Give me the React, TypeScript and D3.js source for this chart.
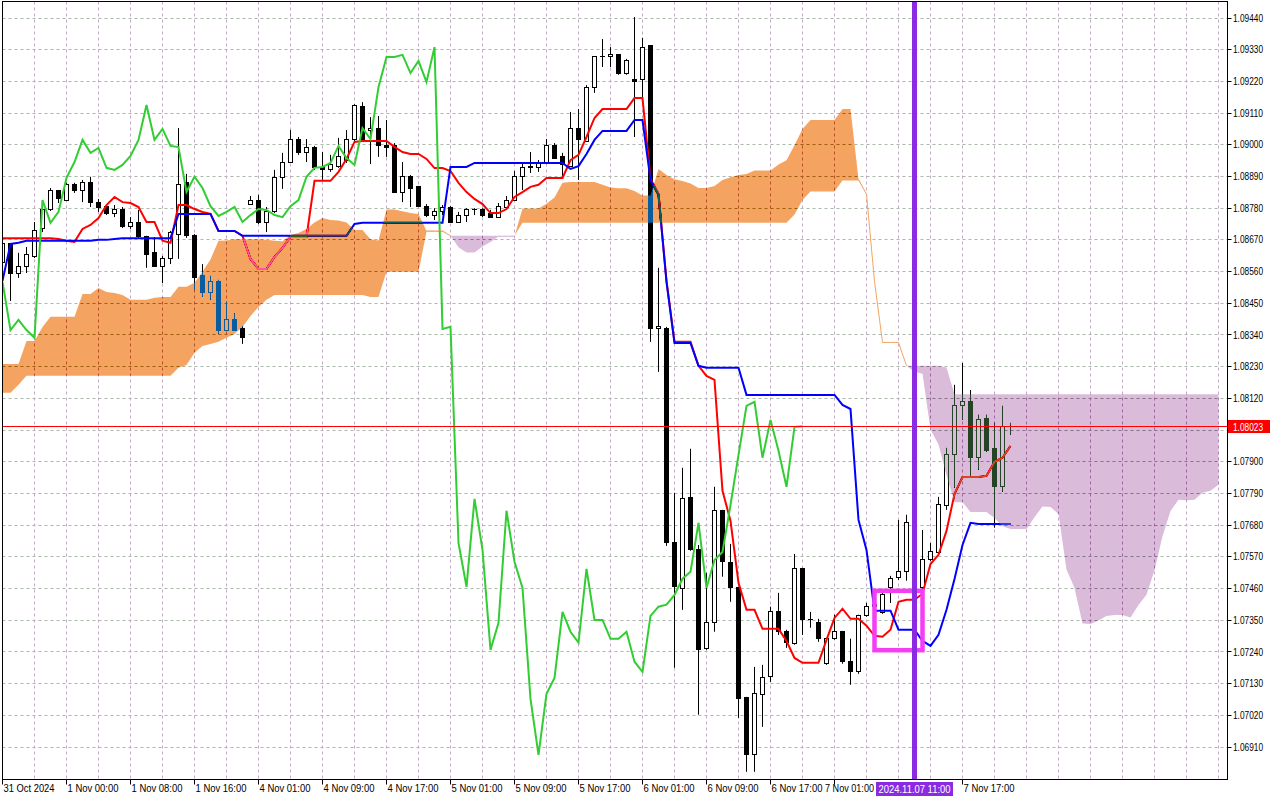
import React from 'react';
import * as d3 from 'd3';

// EURUSD H1, first bar = 31 Oct 2024 16:00. [open, high, low, close]
const ohlc: [number, number, number, number][] = [
  [1.08593, 1.0867, 1.08579, 1.08656], [1.08656, 1.08659, 1.08458, 1.08555], [1.08555, 1.08625, 1.08538, 1.08579],
  [1.08579, 1.08645, 1.08555, 1.08618], [1.08611, 1.08732, 1.08607, 1.08704], [1.08708, 1.08808, 1.08697, 1.08774],
  [1.08774, 1.0885, 1.0877, 1.0884], [1.0884, 1.08843, 1.08798, 1.08812], [1.08808, 1.08868, 1.08805, 1.08861],
  [1.08861, 1.08868, 1.08833, 1.0884], [1.0884, 1.08878, 1.08801, 1.08868], [1.08868, 1.08889, 1.08784, 1.08801],
  [1.08801, 1.08812, 1.08767, 1.08784], [1.08787, 1.08794, 1.08756, 1.08763], [1.08763, 1.08791, 1.08749, 1.08774],
  [1.08774, 1.08784, 1.08711, 1.08715], [1.08715, 1.08749, 1.08708, 1.08729], [1.08729, 1.08774, 1.08677, 1.0868],
  [1.0868, 1.08684, 1.08573, 1.08618], [1.08625, 1.0868, 1.08576, 1.08579], [1.08579, 1.08614, 1.0852, 1.08607],
  [1.08607, 1.08701, 1.08586, 1.08694], [1.0869, 1.09058, 1.08604, 1.08861], [1.08868, 1.08899, 1.08677, 1.08684],
  [1.08684, 1.0869, 1.08496, 1.08541], [1.08545, 1.08586, 1.08472, 1.08486], [1.08486, 1.08545, 1.08462, 1.08524],
  [1.08524, 1.08531, 1.08344, 1.08357], [1.08357, 1.08455, 1.08354, 1.08392], [1.08392, 1.08416, 1.08354, 1.08357],
  [1.08361, 1.08371, 1.08309, 1.0833], [1.08794, 1.08822, 1.08791, 1.08808], [1.08805, 1.08826, 1.08725, 1.08729],
  [1.08729, 1.08784, 1.08697, 1.08767], [1.08767, 1.08913, 1.08763, 1.08885], [1.08885, 1.08972, 1.08847, 1.0894],
  [1.0894, 1.09051, 1.08937, 1.09017], [1.09017, 1.09027, 1.08965, 1.08972], [1.08972, 1.0902, 1.0894, 1.08989],
  [1.08989, 1.08996, 1.08913, 1.0892], [1.0892, 1.08975, 1.08878, 1.08913], [1.08913, 1.08965, 1.08906, 1.0893],
  [1.08926, 1.09024, 1.0892, 1.08961], [1.08944, 1.09051, 1.08937, 1.09017], [1.09017, 1.09141, 1.0901, 1.09138],
  [1.09134, 1.09148, 1.09013, 1.09017], [1.09048, 1.09096, 1.08933, 1.09055], [1.09055, 1.091, 1.08958, 1.08996],
  [1.08999, 1.09086, 1.08958, 1.08992], [1.08996, 1.09006, 1.08833, 1.08836], [1.08836, 1.0894, 1.08801, 1.08889],
  [1.08889, 1.08895, 1.08784, 1.0885], [1.08854, 1.08857, 1.08784, 1.08787], [1.08787, 1.08794, 1.08749, 1.08753],
  [1.08753, 1.0878, 1.08739, 1.08767], [1.08767, 1.08791, 1.08756, 1.08784], [1.08784, 1.08787, 1.08729, 1.08732],
  [1.08732, 1.08767, 1.08729, 1.08756], [1.08756, 1.0878, 1.08732, 1.08777], [1.08774, 1.0878, 1.08756, 1.08774],
  [1.08774, 1.0878, 1.08749, 1.08756], [1.08763, 1.08774, 1.08746, 1.08749], [1.08749, 1.08798, 1.08746, 1.08787],
  [1.08784, 1.08822, 1.0878, 1.08808], [1.08808, 1.08909, 1.08805, 1.08889], [1.08889, 1.0894, 1.08843, 1.0892],
  [1.0892, 1.08975, 1.08902, 1.08923], [1.0892, 1.08947, 1.08906, 1.08937], [1.08937, 1.0902, 1.08933, 1.08996],
  [1.08996, 1.09006, 1.08951, 1.08954], [1.08958, 1.08972, 1.08889, 1.0893], [1.08926, 1.09114, 1.08923, 1.09058],
  [1.09058, 1.09124, 1.08878, 1.0902], [1.09013, 1.09207, 1.0901, 1.092], [1.092, 1.09308, 1.0918, 1.09305],
  [1.09305, 1.09367, 1.0927, 1.09305], [1.09305, 1.09339, 1.0927, 1.09312], [1.09312, 1.09315, 1.09243, 1.09249],
  [1.09249, 1.09298, 1.09243, 1.09291], [1.09228, 1.09443, 1.09027, 1.09218], [1.09228, 1.09371, 1.09155, 1.09339],
  [1.09343, 1.09346, 1.08316, 1.08361], [1.08364, 1.08573, 1.08212, 1.08368], [1.08361, 1.08368, 1.07608, 1.07618],
  [1.07618, 1.07792, 1.07185, 1.07466], [1.07459, 1.07879, 1.07386, 1.07771], [1.07775, 1.07945, 1.07591, 1.07594],
  [1.07594, 1.07611, 1.07022, 1.07247], [1.07251, 1.07514, 1.07247, 1.07341], [1.07341, 1.07813, 1.0731, 1.0773],
  [1.0773, 1.07733, 1.07501, 1.07553], [1.07549, 1.07615, 1.07414, 1.07462], [1.07462, 1.07466, 1.07011, 1.07077],
  [1.07081, 1.07084, 1.06824, 1.06883], [1.06883, 1.07188, 1.06824, 1.07095], [1.07091, 1.07195, 1.0698, 1.0715],
  [1.07154, 1.07397, 1.07136, 1.07379], [1.07379, 1.07445, 1.07299, 1.0731], [1.0731, 1.07317, 1.07254, 1.07272],
  [1.07268, 1.0758, 1.07265, 1.07528], [1.07528, 1.07532, 1.07299, 1.07351], [1.07351, 1.07379, 1.07324, 1.07351],
  [1.07341, 1.07355, 1.07275, 1.07286], [1.07199, 1.07289, 1.07195, 1.07286], [1.07286, 1.07369, 1.07282, 1.0731],
  [1.0731, 1.07313, 1.07199, 1.07206], [1.07206, 1.07286, 1.07126, 1.07171], [1.07171, 1.07369, 1.07164, 1.07365],
  [1.07365, 1.0741, 1.07362, 1.07397], [1.07397, 1.07428, 1.07383, 1.07404], [1.07376, 1.07459, 1.07372, 1.07438],
  [1.07462, 1.07504, 1.0741, 1.07494], [1.07497, 1.07698, 1.0749, 1.07518], [1.07518, 1.07716, 1.07487, 1.07688],
  [1.07688, 1.07698, 1.07449, 1.07462], [1.07462, 1.07663, 1.07459, 1.07559], [1.07559, 1.07618, 1.07556, 1.07587],
  [1.07584, 1.07778, 1.0758, 1.0775], [1.07747, 1.07948, 1.07733, 1.07924], [1.07924, 1.08167, 1.0781, 1.08094],
  [1.08094, 1.08243, 1.08045, 1.08108], [1.08108, 1.08149, 1.07848, 1.07914], [1.07914, 1.08063, 1.07872, 1.08045],
  [1.08049, 1.08063, 1.07935, 1.07938], [1.07945, 1.08035, 1.07671, 1.07813], [1.07813, 1.08094, 1.07796, 1.08021],
  [1.08021, 1.08035, 1.07993, 1.08023],
];

// Tenkan-sen (red), one value per bar
const tenkan = [
  1.08676, 1.08676, 1.08676, 1.08676, 1.08676, 1.08676, 1.08676, 1.08673, 1.08667, 1.08663, // 0
  1.08708, 1.08722, 1.08746, 1.08791, 1.08819, 1.08801, 1.08798, 1.08784, 1.08732, 1.08732, // 10
  1.08667, 1.0866, 1.08791, 1.08791, 1.08777, 1.08767, 1.0876, 1.08701, 1.08701, 1.08701, // 20
  1.08684, 1.08604, 1.08569, 1.08569, 1.08611, 1.08642, 1.0868, 1.0868, 1.0868, 1.08875, // 30
  1.08875, 1.08875, 1.08906, 1.08951, 1.0901, 1.09013, 1.09013, 1.09013, 1.09013, 1.08993, // 40
  1.08975, 1.08968, 1.08968, 1.08951, 1.08919, 1.08919, 1.08909, 1.08868, 1.08836, 1.08812, // 50
  1.08794, 1.08763, 1.08763, 1.08777, 1.08819, 1.08836, 1.08854, 1.08861, 1.08885, 1.08885, // 60
  1.08885, 1.08947, 1.08965, 1.09027, 1.09093, 1.09124, 1.09124, 1.09124, 1.09124, 1.09162, // 70
  1.09162, 1.08882, 1.08829, 1.08528, 1.08316, 1.08316, 1.08316, 1.08233, 1.08198, 1.08184, // 80
  1.07799, 1.07695, 1.0748, 1.07386, 1.07386, 1.0732, 1.0732, 1.0732, 1.07278, 1.07219, // 90
  1.07202, 1.07202, 1.07202, 1.07282, 1.07358, 1.0739, 1.07355, 1.07355, 1.07331, 1.07296, // 100
  1.07293, 1.07317, 1.07414, 1.07421, 1.07421, 1.07442, 1.07545, 1.07577, 1.0766, 1.07788, // 110
  1.07847, 1.07847, 1.07847, 1.07851, 1.079, 1.07914, 1.07955, // 120
];

// Kijun-sen (blue)
const kijun = [
  1.08528, 1.08656, 1.0866, 1.08667, 1.08667, 1.08667, 1.08667, 1.08667, 1.08667, 1.08667, // 0
  1.08667, 1.08667, 1.0867, 1.0867, 1.08673, 1.08676, 1.08676, 1.08676, 1.08676, 1.08676, // 10
  1.08676, 1.08676, 1.0876, 1.0876, 1.0876, 1.0876, 1.0876, 1.08701, 1.08701, 1.08701, // 20
  1.08684, 1.08684, 1.08684, 1.08684, 1.08684, 1.08684, 1.08684, 1.08684, 1.08684, 1.08684, // 30
  1.08684, 1.08684, 1.08684, 1.08684, 1.08725, 1.08729, 1.08729, 1.08729, 1.08729, 1.08729, // 40
  1.08729, 1.08729, 1.08729, 1.08729, 1.08729, 1.08729, 1.08923, 1.08923, 1.08923, 1.08937, // 50
  1.08937, 1.08937, 1.08937, 1.08937, 1.08937, 1.08937, 1.08937, 1.08937, 1.08937, 1.08937, // 60
  1.08937, 1.08916, 1.08926, 1.08968, 1.09017, 1.09048, 1.09048, 1.09048, 1.09048, 1.09086, // 70
  1.09086, 1.08878, 1.08826, 1.08524, 1.08312, 1.08312, 1.08312, 1.08233, 1.08226, 1.08226, // 80
  1.08226, 1.08226, 1.08226, 1.08132, 1.08132, 1.08132, 1.08132, 1.08132, 1.08132, 1.08132, // 90
  1.08132, 1.08132, 1.08132, 1.08132, 1.08132, 1.08097, 1.08083, 1.07698, 1.07594, 1.07383, // 100
  1.07383, 1.07383, 1.07317, 1.07317, 1.07317, 1.07278, 1.07261, 1.07299, 1.07386, 1.07493, // 110
  1.07611, 1.07688, 1.07684, 1.07684, 1.07684, 1.07684, 1.07684, // 120
];

// Senkou Span A and B, already shifted 26 bars forward (bars 0..152)
const spanA = [
  1.08239, 1.08239, 1.08239, 1.08319, 1.08319, 1.08368, 1.08403, 1.08403, 1.08403, 1.08403, // 0
  1.08482, 1.08482, 1.08503, 1.08489, 1.08486, 1.08479, 1.08462, 1.08462, 1.08462, 1.08469, // 10
  1.08472, 1.08472, 1.08507, 1.08507, 1.08521, 1.08559, 1.08602, 1.08667, 1.08668, 1.08672, // 20
  1.08672, 1.08672, 1.08672, 1.0867, 1.08667, 1.08665, 1.08687, 1.08694, 1.08708, 1.0873, // 30
  1.08746, 1.08739, 1.08737, 1.0873, 1.08704, 1.08704, 1.08672, 1.08668, 1.08775, 1.08775, // 40
  1.08769, 1.08763, 1.0876, 1.08701, 1.08701, 1.08701, 1.08684, 1.08644, 1.08626, 1.08626, // 50
  1.08647, 1.08663, 1.08682, 1.08682, 1.08682, 1.08779, 1.08779, 1.08779, 1.08795, 1.08817, // 60
  1.08868, 1.08871, 1.08871, 1.08871, 1.08871, 1.08861, 1.08852, 1.08849, 1.08849, 1.0884, // 70
  1.08824, 1.08824, 1.08916, 1.08895, 1.0888, 1.08874, 1.08866, 1.0885, 1.0885, 1.08857, // 80
  1.08878, 1.08887, 1.08895, 1.08899, 1.08911, 1.08911, 1.08911, 1.08932, 1.08946, 1.08998, // 90
  1.09055, 1.09086, 1.09086, 1.09086, 1.09086, 1.09124, 1.09124, 1.0888, 1.08828, 1.08526, // 100
  1.08314, 1.08314, 1.08314, 1.08233, 1.08212, 1.08205, 1.08012, 1.0796, 1.07853, 1.07759, // 110
  1.07759, 1.07726, 1.07726, 1.07726, 1.07705, 1.07676, 1.07667, 1.07667, 1.07667, 1.07707, // 120
  1.07745, 1.07743, 1.07719, 1.07526, 1.07462, 1.07339, 1.07337, 1.07349, 1.07365, 1.07368, // 130
  1.07368, 1.07359, 1.07403, 1.07438, 1.07523, 1.07641, 1.07729, 1.07768, 1.07766, 1.07768, // 140
  1.07792, 1.07799, 1.0782, // 150
];

const spanB = [
  1.08139, 1.08139, 1.08167, 1.08198, 1.08198, 1.08198, 1.08198, 1.08198, 1.08198, 1.08198, // 0
  1.08198, 1.08198, 1.08198, 1.08198, 1.08198, 1.08198, 1.08198, 1.08198, 1.08198, 1.08198, // 10
  1.08198, 1.08198, 1.08226, 1.08236, 1.08278, 1.08302, 1.08309, 1.08316, 1.0833, 1.08343, // 20
  1.08368, 1.08406, 1.08437, 1.08462, 1.08479, 1.08479, 1.08479, 1.08479, 1.08479, 1.08479, // 30
  1.08479, 1.08479, 1.08479, 1.08479, 1.08479, 1.08479, 1.08472, 1.08472, 1.08559, 1.08559, // 40
  1.08559, 1.08559, 1.08559, 1.08698, 1.08698, 1.08698, 1.08684, 1.08684, 1.08684, 1.08684, // 50
  1.08684, 1.08684, 1.08684, 1.08684, 1.08684, 1.08729, 1.08729, 1.08729, 1.08729, 1.08729, // 60
  1.08729, 1.08729, 1.08729, 1.08729, 1.08729, 1.08729, 1.08729, 1.08729, 1.08729, 1.08729, // 70
  1.08729, 1.08729, 1.08729, 1.08729, 1.08729, 1.08729, 1.08729, 1.08729, 1.08729, 1.08729, // 80
  1.08729, 1.08729, 1.08729, 1.08729, 1.08729, 1.08729, 1.08729, 1.08729, 1.08729, 1.08758, // 90
  1.08808, 1.08838, 1.08838, 1.08838, 1.08838, 1.08876, 1.08876, 1.08876, 1.08828, 1.08526, // 100
  1.08314, 1.08314, 1.08314, 1.08233, 1.08233, 1.08233, 1.08233, 1.08233, 1.08227, 1.08134, // 110
  1.08134, 1.08134, 1.08134, 1.08134, 1.08134, 1.08134, 1.08134, 1.08134, 1.08134, 1.08134, // 120
  1.08134, 1.08134, 1.08134, 1.08134, 1.08134, 1.08134, 1.08134, 1.08134, 1.08134, 1.08134, // 130
  1.08134, 1.08134, 1.08134, 1.08134, 1.08134, 1.08134, 1.08134, 1.08134, 1.08134, 1.08134, // 140
  1.08134, 1.08134, 1.08134, // 150
];

// Chikou span = close plotted 26 bars back
const chikouShift = 26;

const priceTicks = [
  1.0944, 1.0933, 1.0922, 1.0911, 1.09, 1.0889, 1.0878, 1.0867, 1.0856, 1.0845, 1.0834, 1.0823,
  1.0812, 1.0801, 1.079, 1.0779, 1.0768, 1.0757, 1.0746, 1.0735, 1.0724, 1.0713, 1.0702, 1.0691,
];

// 7 Nov 09:00 sits under the vertical line label, so it is not listed
const timeTicks: [number, string][] = [
  [0, '31 Oct 2024'], [8, '1 Nov 00:00'], [16, '1 Nov 08:00'], [24, '1 Nov 16:00'],
  [32, '4 Nov 01:00'], [40, '4 Nov 09:00'], [48, '4 Nov 17:00'], [56, '5 Nov 01:00'],
  [64, '5 Nov 09:00'], [72, '5 Nov 17:00'], [80, '6 Nov 01:00'], [88, '6 Nov 09:00'],
  [96, '6 Nov 17:00'], [104, '7 Nov 01:00'], [120, '7 Nov 17:00'],
];

const lastPrice = 1.08023;
const markerBar = 114;
const markerLabel = '2024.11.07 11:00';
const boxBars: [number, number] = [109, 115];
const boxPrices: [number, number] = [1.07246, 1.07452];

const FONT = "'Liberation Sans', Arial, sans-serif";

type CloudPt = { i: number; a: number; b: number };

export default function App() {
  const width = 1280;
  const height = 800;
  const plot = { left: 2.5, right: 1227.5, top: 1.5, bottom: 779.5 };

  const x = d3.scaleLinear().domain([0, 152]).range([2.5, 1218.5]);
  const y = d3.scaleLinear().domain([1.0691, 1.0944]).range([747, 18]);
  const snap = (v: number) => Math.floor(v) + 0.5;

  const line = d3
    .line<number>()
    .x((_, i) => x(i))
    .y((d) => y(d));

  const chikou = ohlc.slice(chikouShift).map((d) => d[3]);

  // cloud with the crossing points put in, so both colours meet exactly
  const cloudPts: CloudPt[] = [];
  spanA.forEach((a, i) => {
    const b = spanB[i];
    if (i > 0) {
      const d0 = spanA[i - 1] - spanB[i - 1];
      const d1 = a - b;
      if (d0 * d1 < 0) {
        const t = d0 / (d0 - d1);
        const v = spanA[i - 1] + t * (a - spanA[i - 1]);
        cloudPts.push({ i: i - 1 + t, a: v, b: v });
      }
    }
    cloudPts.push({ i, a, b });
  });
  const sandArea = d3
    .area<CloudPt>()
    .x((d) => x(d.i))
    .y0((d) => y(d.b))
    .y1((d) => y(Math.max(d.a, d.b)));
  const thistleArea = d3
    .area<CloudPt>()
    .x((d) => x(d.i))
    .y0((d) => y(d.a))
    .y1((d) => y(Math.max(d.a, d.b)));

  // where the cloud is almost flat MT5 still shows a 1px line
  const thin: { i: number; up: boolean }[] = [];
  for (let i = 1; i < spanA.length; i++) {
    if (Math.abs(spanA[i - 1] - spanB[i - 1]) < 0.00006 && Math.abs(spanA[i] - spanB[i]) < 0.00006) {
      thin.push({ i, up: spanA[i] + spanA[i - 1] >= spanB[i] + spanB[i - 1] });
    }
  }

  const vGrid = d3.range(0, 153, 4);
  const lastY = snap(y(lastPrice));
  const mx = x(markerBar);
  const labelLeft = mx - 38.5;

  return (
    <div style={{ position: 'absolute', left: 0, top: 0 }}>
      <svg width={width} height={height} style={{ display: 'block', background: '#fff' }}>
        <defs>
          <clipPath id="plot-clip">
            <rect x={3} y={2} width={plot.right - 3} height={plot.bottom - 2} />
          </clipPath>
        </defs>
        <rect x={0} y={0} width={width} height={height} fill="#fff" />

        <g clipPath="url(#plot-clip)">
          {/* backdrop for the cloud blending */}
          <rect x={0} y={0} width={width} height={height} fill="#fff" />

          {/* grid */}
          {priceTicks.map((p) => (
            <line
              key={'h' + p}
              x1={plot.left}
              x2={plot.right}
              y1={snap(y(p))}
              y2={snap(y(p))}
              stroke="#a9b8a9"
              strokeDasharray="3 3"
            />
          ))}
          {vGrid.map((i) => (
            <line
              key={'v' + i}
              x1={x(i)}
              x2={x(i)}
              y1={plot.top}
              y2={plot.bottom}
              stroke="#c4a9c4"
              strokeDasharray="3 3"
            />
          ))}

          {/* candles */}
          {ohlc.map(([o, h, l, c], i) => {
            const cx = x(i);
            const top = snap(y(Math.max(o, c)));
            const bot = snap(y(Math.min(o, c)));
            return (
              <g key={'c' + i}>
                <line x1={cx} x2={cx} y1={y(h)} y2={y(l)} stroke="#000" />
                {bot - top < 1 ? (
                  <line x1={cx - 2.5} x2={cx + 2.5} y1={top} y2={top} stroke="#000" />
                ) : (
                  <rect
                    x={cx - 2}
                    y={top}
                    width={4}
                    height={bot - top}
                    fill={c >= o ? '#fff' : '#000'}
                    stroke="#000"
                  />
                )}
              </g>
            );
          })}

          {/* ichimoku lines */}
          <path d={line(tenkan) ?? ''} fill="none" stroke="#ff0000" strokeWidth={2} />
          <path d={line(kijun) ?? ''} fill="none" stroke="#0000ff" strokeWidth={2} />
          <path d={line(chikou) ?? ''} fill="none" stroke="#32cd32" strokeWidth={2} />

          {/* cloud, painted like MT5 (inverts what lies under it) */}
          <g style={{ mixBlendMode: 'difference' }}>
            <path d={sandArea(cloudPts) ?? ''} fill="#0b5b9f" />
            <path d={thistleArea(cloudPts) ?? ''} fill="#254425" />
          </g>
          {thin.map(({ i, up }) => (
            <line
              key={'t' + i}
              x1={x(i - 1)}
              x2={x(i)}
              y1={y(spanA[i - 1])}
              y2={y(spanA[i])}
              stroke={up ? '#f4a460' : '#dabbda'}
              strokeWidth={1}
            />
          ))}

          {/* last price */}
          <line x1={plot.left} x2={plot.right} y1={lastY} y2={lastY} stroke="#ff0000" />

          {/* drawn objects */}
          <rect
            x={x(boxBars[0])}
            y={y(boxPrices[1])}
            width={x(boxBars[1]) - x(boxBars[0])}
            height={y(boxPrices[0]) - y(boxPrices[1])}
            fill="none"
            stroke="#f53df5"
            strokeWidth={4.5}
          />
          <line x1={mx} x2={mx} y1={plot.top} y2={plot.bottom} stroke="#8a2be2" strokeWidth={5} />
        </g>

        {/* frame */}
        <rect
          x={plot.left}
          y={plot.top}
          width={plot.right - plot.left}
          height={plot.bottom - plot.top}
          fill="none"
          stroke="#000"
        />

        {/* price axis */}
        {priceTicks.map((p) => {
          const hidden = Math.abs(y(p) - y(lastPrice)) < 9;
          return (
            <g key={'pt' + p}>
              <line x1={plot.right} x2={plot.right + 4} y1={snap(y(p))} y2={snap(y(p))} stroke="#000" />
              {!hidden && (
                <text
                  x={1233}
                  y={y(p) + 3.6}
                  fontFamily={FONT}
                  fontSize={10}
                  fill="#000"
                  textLength={30}
                  lengthAdjust="spacingAndGlyphs"
                >
                  {p.toFixed(5)}
                </text>
              )}
            </g>
          );
        })}
        <rect x={1228} y={lastY - 6.5} width={42} height={13} fill="#ff0000" />
        <text
          x={1233}
          y={lastY + 4}
          fontFamily={FONT}
          fontSize={10}
          fill="#fff"
          textLength={30}
          lengthAdjust="spacingAndGlyphs"
        >
          {lastPrice.toFixed(5)}
        </text>

        {/* time axis */}
        {timeTicks.map(([i, label]) => {
          const tx = x(i) + 1;
          // a label that would run under the marker label box ends just before it
          const blocked = tx < labelLeft && tx + 52 > labelLeft;
          return (
            <g key={'tt' + i}>
              <line x1={x(i)} x2={x(i)} y1={plot.bottom} y2={plot.bottom + 5} stroke="#000" />
              <text
                x={blocked ? labelLeft - 2 : tx}
                y={792}
                textAnchor={blocked ? 'end' : 'start'}
                fontFamily={FONT}
                fontSize={10}
                fill="#000"
                textLength={blocked ? 49 : 51}
                lengthAdjust="spacingAndGlyphs"
              >
                {label}
              </text>
            </g>
          );
        })}
        <rect x={labelLeft} y={782} width={77} height={14} fill="#8a2be2" />
        <text
          x={labelLeft + 2.5}
          y={792.5}
          fontFamily={FONT}
          fontSize={10}
          fill="#fff"
          textLength={72}
          lengthAdjust="spacingAndGlyphs"
        >
          {markerLabel}
        </text>
      </svg>
    </div>
  );
}
